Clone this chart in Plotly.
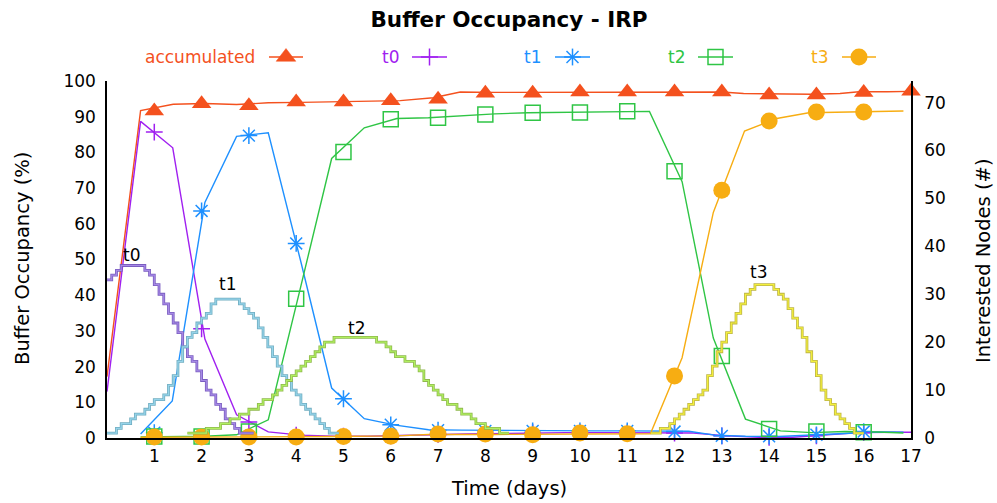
import math
import plotly.graph_objects as go

FONT = "DejaVu Sans"

# ---------------- data ----------------
# integer days where the point markers sit
days = list(range(1, 17))
acc_days = list(range(1, 18))

# Buffer occupancy (%) -- polyline vertices of each series
acc_line_days = [0, 0.71, 1.4, 2.07, 2.74, 3.41, 4.1, 4.8, 5.5, 6.2, 6.9, 7.47, 8.2, 8.9, 9.6,
                 10.3, 11.0, 11.7, 12.4, 13.0, 13.46, 14.2, 14.9, 15.5, 15.9, 16.5, 17.0]
acc_line_pct = [17.2, 91.7, 93.5, 93.7, 93.4, 93.9, 94.0, 94.1, 94.2, 94.5, 95.3, 96.9, 96.8, 96.8, 96.9,
                96.9, 96.9, 96.9, 96.9, 96.9, 96.5, 96.3, 96.3, 96.5, 97.0, 97.0, 97.1]
acc_pts = [91.6, 93.6, 93.1, 94.1, 94.1, 94.5, 94.9, 96.6, 96.6, 96.9, 96.9, 96.9, 96.9, 96.1, 96.1, 96.8, 97.1]

t0_line_days = [0, 0.71, 1.39, 2.07, 2.74, 3.41, 4.1, 4.8, 5.5, 6.2, 6.9, 7.6, 8.3, 9.0, 9.7,
                10.4, 11.1, 11.8, 12.4, 13.1, 13.8, 14.5, 15.2, 15.9, 16.6, 17.0]
t0_line_pct = [13.0, 88.7, 81.3, 27.7, 6.5, 1.7, 0.8, 0.5, 0.5, 0.6, 0.9, 1.1, 1.3, 1.5, 1.5,
               1.5, 1.4, 1.4, 1.4, 0.6, 0.2, 0.2, 0.8, 1.5, 1.6, 1.6]
t0_pts = [85.7, 30.6, 4.5, 0.8, 0.5, 0.6, 1.0, 1.3, 1.5, 1.5, 1.4, 1.4, 0.6, 0.2, 0.6, 1.5]

t1_line_days = [0.71, 1.38, 2.07, 2.74, 3.41, 4.1, 4.75, 5.44, 6.1, 6.8, 7.5, 8.2, 8.9, 9.6,
                10.3, 11.0, 11.7, 12.3, 12.85, 13.5, 14.2, 14.9, 15.6, 16.3, 16.84]
t1_line_pct = [1.1, 10.4, 66.0, 84.5, 85.5, 49.3, 14.0, 5.4, 3.6, 2.3, 2.2, 2.1, 2.0, 2.0,
               2.0, 2.0, 2.0, 1.9, 0.8, 0.5, 0.4, 0.8, 1.2, 1.7, 1.6]
t1_pts = [1.5, 63.6, 84.7, 54.5, 11.0, 3.7, 2.2, 2.0, 2.0, 2.0, 2.0, 1.8, 0.6, 0.5, 0.9, 1.8]

t2_line_days = [0.71, 1.38, 2.07, 2.74, 3.41, 4.08, 4.75, 5.44, 6.13, 6.8, 7.5, 8.2, 8.9, 9.6,
                10.3, 11.0, 11.47, 12.16, 12.82, 13.5, 14.24, 14.9, 15.6, 16.3, 16.84]
t2_line_pct = [0.3, 0.3, 0.5, 0.9, 5.1, 41.5, 78.3, 86.9, 89.5, 89.7, 90.3, 90.8, 91.1, 91.2,
               91.3, 91.5, 91.5, 71.8, 28.0, 5.3, 2.0, 1.5, 1.8, 1.7, 1.4]
t2_pts = [0.4, 0.4, 1.8, 39.0, 80.1, 89.3, 89.7, 90.6, 91.1, 91.2, 91.5, 74.7, 23.0, 2.5, 1.8, 1.6]

t3_line_days = [0.71, 2.07, 3.41, 4.75, 6.13, 6.8, 8.2, 9.6, 11.0, 11.49, 12.16, 12.82, 13.48,
                14.16, 14.84, 15.5, 16.2, 16.84]
t3_line_pct = [0.2, 0.2, 0.3, 0.4, 0.6, 1.0, 1.0, 1.0, 1.2, 1.2, 22.5, 63.2, 86.0,
               89.5, 91.1, 91.3, 91.4, 91.6]
t3_pts = [0.3, 0.3, 0.3, 0.3, 0.4, 0.5, 1.1, 1.1, 0.9, 1.4, 1.2, 17.4, 69.4, 88.8, 91.3, 91.3]

# Interested nodes (#) -- counts sampled every 0.1 day from a start day
t0_nodes_start = 0.0
t0_nodes = [33, 34, 35, 36, 36, 36, 36, 36, 35, 34, 32, 30, 28, 26, 24, 22, 19, 17, 16, 14,
            12, 10, 9, 7, 6, 4, 3, 2, 1, 1, 1, 1]
t1_nodes_start = 0.0
t1_nodes = [1, 1, 2, 3, 3, 4, 5, 5, 6, 7, 8, 8, 9, 11, 13, 16, 19, 21, 22, 24,
            25, 26, 28, 29, 29, 29, 29, 29, 28, 27, 26, 25, 23, 21, 19, 17, 15, 13, 12, 10,
            9, 7, 6, 5, 4, 3, 2, 1, 1, 1]
t2_nodes_start = 1.7
t2_nodes = [1, 1, 1, 1, 2, 2, 2, 3, 3, 4, 4, 5, 5, 6, 6, 7, 8, 8, 9, 10,
            11, 12, 13, 14, 15, 16, 17, 18, 19, 20, 20, 21, 21, 21, 21, 21, 21, 21, 21, 21,
            20, 20, 19, 18, 17, 17, 16, 16, 15, 14, 12, 11, 10, 9, 8, 7, 7, 6, 5, 5,
            4, 3, 3, 2, 2, 2, 1, 1, 1]
t3_nodes_start = 11.5
t3_nodes = [1, 1, 2, 2, 3, 4, 5, 6, 7, 8, 9, 10, 13, 15, 18, 20, 22, 24, 26, 28,
            30, 31, 32, 32, 32, 32, 31, 30, 29, 27, 25, 23, 21, 18, 16, 13, 10, 8, 7, 5,
            4, 3, 2, 1, 1, 1]

# ---------------- styling ----------------
ACC = "#f4511e"
C0 = "#a020f0"
C1 = "#1e90ff"
C2 = "#2fc545"
C3 = "#f7ad12"

STEP_STYLE = {
    "t0": ("#7a5cc0", "#a68ae6"),
    "t1": ("#70adc0", "#95d4ea"),
    "t2": ("#8fb84c", "#b0f060"),
    "t3": ("#bdb444", "#f4f03c"),
}

W, H = 997, 503
L, R, T, B = 107, 86, 81, 65
PW, PH = W - L - R, H - T - B


def px(xp):
    return (xp - L) / PW


def py(yp):
    return (H - B - yp) / PH


fig = go.Figure()


# interested-node staircases (right axis)
def step_trace(name, start, counts):
    xs = [round(start + 0.1 * i, 2) for i in range(len(counts))]
    outer, inner = STEP_STYLE[name]
    for col, w in ((outer, 2.8), (inner, 1.2)):
        fig.add_trace(go.Scatter(x=xs, y=counts, mode="lines", yaxis="y2",
                                 line=dict(color=col, width=w, shape="hv"),
                                 hoverinfo="skip"))


step_trace("t0", t0_nodes_start, t0_nodes)
step_trace("t1", t1_nodes_start, t1_nodes)
step_trace("t2", t2_nodes_start, t2_nodes)
step_trace("t3", t3_nodes_start, t3_nodes)

# buffer occupancy series (left axis)
series = [
    ("accumulated", ACC, acc_line_days, acc_line_pct, acc_days, acc_pts,
     dict(symbol="triangle-up", size=17, color=ACC)),
    ("t0", C0, t0_line_days, t0_line_pct, days, t0_pts,
     dict(symbol="cross-thin-open", size=12, color=C0, line=dict(color=C0, width=1.5))),
    ("t1", C1, t1_line_days, t1_line_pct, days, t1_pts,
     dict(symbol="asterisk-open", size=14, color=C1, line=dict(color=C1, width=1.5))),
    ("t2", C2, t2_line_days, t2_line_pct, days, t2_pts,
     dict(symbol="square-open", size=15, color=C2, line=dict(color=C2, width=1.5))),
    ("t3", C3, t3_line_days, t3_line_pct, days, t3_pts,
     dict(symbol="circle", size=17, color=C3)),
]
for name, col, lx, ly, mx, my, mk in series:
    fig.add_trace(go.Scatter(x=lx, y=ly, mode="lines", line=dict(color=col, width=1.4),
                             name=name, hoverinfo="skip"))
for name, col, lx, ly, mx, my, mk in series:
    fig.add_trace(go.Scatter(x=mx, y=my, mode="markers", marker=mk, name=name,
                             cliponaxis=False))


# key row above the plot: label, then a short line with the marker (drawn as shapes)
def seg(x0, y0, x1, y1, col):
    return dict(type="line", xref="paper", yref="paper", x0=px(x0), y0=py(y0),
                x1=px(x1), y1=py(y1), line=dict(color=col, width=1.5))


def key_symbol(kind, cx, cy, col):
    if kind == "triangle":
        r = 8.5
        rt = r * 2 / math.sqrt(3)
        pts = [(cx - rt, cy + r / 2), (cx + rt, cy + r / 2), (cx, cy - r)]
        path = "M " + " L ".join(f"{px(a):.5f},{py(b):.5f}" for a, b in pts) + " Z"
        return [dict(type="path", xref="paper", yref="paper", path=path,
                     fillcolor=col, line=dict(color=col, width=0.5))]
    if kind == "plus":
        h = 8.5
        return [seg(cx - h, cy, cx + h, cy, col), seg(cx, cy - h, cx, cy + h, col)]
    if kind == "asterisk":
        h, d = 8.4, 6.0
        return [seg(cx - h, cy, cx + h, cy, col), seg(cx, cy - h, cx, cy + h, col),
                seg(cx - d, cy - d, cx + d, cy + d, col), seg(cx - d, cy + d, cx + d, cy - d, col)]
    if kind == "square":
        h = 7.5
        return [dict(type="rect", xref="paper", yref="paper", x0=px(cx - h), x1=px(cx + h),
                     y0=py(cy + h), y1=py(cy - h), fillcolor="rgba(0,0,0,0)",
                     line=dict(color=col, width=1.5))]
    h = 8.5
    return [dict(type="circle", xref="paper", yref="paper", x0=px(cx - h), x1=px(cx + h),
                 y0=py(cy + h), y1=py(cy - h), fillcolor=col, line=dict(color=col, width=0))]


key_y = 57
key_items = [
    ("accumulated", 257, 269, 303, "triangle"),
    ("t0", 401, 412, 447, "plus"),
    ("t1", 543, 555, 590, "asterisk"),
    ("t2", 687, 698, 733, "square"),
    ("t3", 830, 842, 876, "circle"),
]
annotations = []
shapes = []
for (label, tx, x0, x1, kind), s in zip(key_items, series):
    col = s[1]
    annotations.append(dict(text=label, x=px(tx), y=py(key_y), xref="paper", yref="paper",
                            xanchor="right", yanchor="middle", showarrow=False,
                            font=dict(family=FONT, size=17, color=col)))
    shapes.append(seg(x0, key_y, x1, key_y, col))
    shapes += key_symbol(kind, (x0 + x1) / 2, key_y, col)

# names above each staircase peak
for text, d, n in (("t0", 0.52, 38.2), ("t1", 2.55, 32.1), ("t2", 5.28, 22.9), ("t3", 13.77, 34.7)):
    annotations.append(dict(text=text, x=d, y=n, xref="x", yref="y2", showarrow=False,
                            xanchor="center", yanchor="middle",
                            font=dict(family=FONT, size=17, color="black")))

# axis titles
annotations += [
    dict(text="Buffer Occupancy (%)", x=px(22), y=py(259), xref="paper", yref="paper",
         xanchor="center", yanchor="middle",
         textangle=-90, showarrow=False, font=dict(family=FONT, size=19.5, color="black")),
    dict(text="Interested Nodes (#)", x=px(983), y=py(261), xref="paper", yref="paper",
         xanchor="center", yanchor="middle",
         textangle=-90, showarrow=False, font=dict(family=FONT, size=19.5, color="black")),
    dict(text="Time (days)", x=px(509), y=py(488), xref="paper", yref="paper",
         xanchor="center", yanchor="middle",
         showarrow=False, font=dict(family=FONT, size=19.5, color="black")),
]

axis_common = dict(showgrid=False, zeroline=False, ticks="", showline=True,
                   linecolor="black", linewidth=1.5,
                   tickfont=dict(family=FONT, size=17, color="black"))

fig.update_layout(
    width=W, height=H,
    margin=dict(l=L, r=R, t=T, b=B),
    plot_bgcolor="white", paper_bgcolor="white",
    showlegend=False,
    title=dict(text="<b>Buffer Occupancy - IRP</b>", x=0.5, xref="paper", xanchor="center",
               y=1 - 19 / H, yref="container", yanchor="middle",
               font=dict(family=FONT, size=21.5, color="black")),
    xaxis=dict(range=[0, 17], tickvals=list(range(1, 18)), ticklabelstandoff=2, **axis_common),
    yaxis=dict(range=[0, 100], tickvals=list(range(0, 101, 10)), ticklabelstandoff=6, **axis_common),
    yaxis2=dict(range=[0, 74.5], tickvals=list(range(0, 71, 10)), overlaying="y", side="right",
                ticklabelstandoff=8, **axis_common),
    annotations=annotations,
    shapes=shapes,
)

fig.write_html("out.html")
